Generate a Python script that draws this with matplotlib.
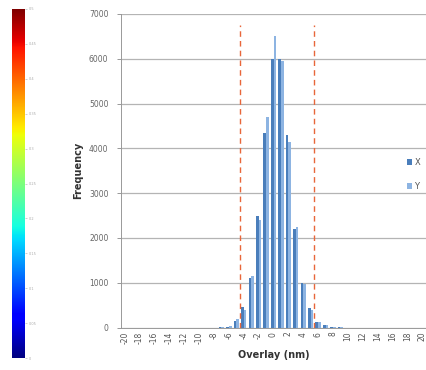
import matplotlib
matplotlib.use("Agg")
import matplotlib.pyplot as plt
import numpy as np

# ---- data ----
overlay_nm = list(range(-20, 21))
freq_x = [0, 0, 0, 0, 0, 0, 0, 0, 0, 0, 0, 0, 0, 5, 20, 150, 450, 1100, 2500, 4350,
          6000, 6000, 4300, 2200, 1000, 430, 130, 60, 20, 5, 0, 0, 0, 0, 0, 0, 0, 0, 0, 0, 0]
freq_y = [0, 0, 0, 0, 0, 0, 0, 0, 0, 0, 0, 0, 0, 5, 30, 180, 400, 1150, 2400, 4700,
          6500, 5950, 4150, 2250, 980, 400, 120, 50, 15, 5, 0, 0, 0, 0, 0, 0, 0, 0, 0, 0, 0]
xtick_labels = [str(v) for v in range(-20, 21, 2)]
limit_lines = [-4.5, 5.5]
cbar_ticks = [0, 0.05, 0.1, 0.15, 0.2, 0.25, 0.3, 0.35, 0.4, 0.45, 0.5]

fig = plt.figure(figsize=(4.27, 3.70), dpi=100)

# ---- colorbar strip at left ----
cax = fig.add_axes([12/427, (370-358)/370, 13/427, 349/370])
grad = np.linspace(0, 0.5, 256).reshape(-1, 1)
cax.imshow(grad, aspect="auto", cmap="jet", origin="lower",
           extent=[0, 1, 0, 0.5])
cax.set_xticks([])
cax.yaxis.tick_right()
cax.set_yticks(cbar_ticks)
cax.set_yticklabels([f"{t:g}" for t in cbar_ticks], fontsize=2.5, color="#aaaaaa")
cax.tick_params(axis="y", length=1.5, width=0.4, colors="#aaaaaa", pad=1)
for s in cax.spines.values():
    s.set_visible(False)

# ---- main histogram ----
ax = fig.add_axes([121/427, (370-327.5)/370, 305/427, 313.5/370])
x = np.array(overlay_nm, dtype=float)
w = 0.36
ax.bar(x - 0.18, freq_x, width=w, color="#4a7ebb", label="X", zorder=3)
ax.bar(x + 0.18, freq_y, width=w, color="#8db4e2", label="Y", zorder=3)

for lx in limit_lines:
    ax.plot([lx, lx], [0, 6750], color="#e8663a", lw=1.0, ls=(0, (4, 3)), zorder=4)

ax.set_xlim(-20.5, 20.5)
ax.set_ylim(0, 7000)
ax.set_yticks(range(0, 7001, 1000))
ax.set_yticklabels([str(v) for v in range(0, 7001, 1000)], fontsize=5.5, color="#666666")
ax.set_xticks(range(-20, 21, 2))
ax.set_xticklabels(xtick_labels, rotation=90, fontsize=5.5, color="#555555")
ax.tick_params(axis="y", length=3, width=0.6, colors="#888888", labelcolor="#666666", pad=6)
ax.tick_params(axis="x", length=0, pad=3, labelcolor="#555555")
ax.grid(axis="y", color="#b4b4b4", lw=0.9, zorder=0)
for side in ["top", "right"]:
    ax.spines[side].set_visible(False)
ax.spines["left"].set_color("#999999")
ax.spines["bottom"].set_color("#999999")
ax.spines["left"].set_linewidth(0.7)
ax.spines["bottom"].set_linewidth(0.7)

ax.set_ylabel("Frequency", fontsize=7, fontweight="bold", color="#333333", labelpad=4)
ax.set_xlabel("Overlay (nm)", fontsize=7, fontweight="bold", color="#333333", labelpad=4)

leg = fig.legend(loc="upper left", bbox_to_anchor=(407/427, (370-158)/370),
                 frameon=False, fontsize=6, handlelength=0.6, handleheight=0.6,
                 handletextpad=0.3, labelspacing=1.8, borderaxespad=0, borderpad=0)
for t in leg.get_texts():
    t.set_color("#555555")

fig.savefig("out.png", dpi=100)
